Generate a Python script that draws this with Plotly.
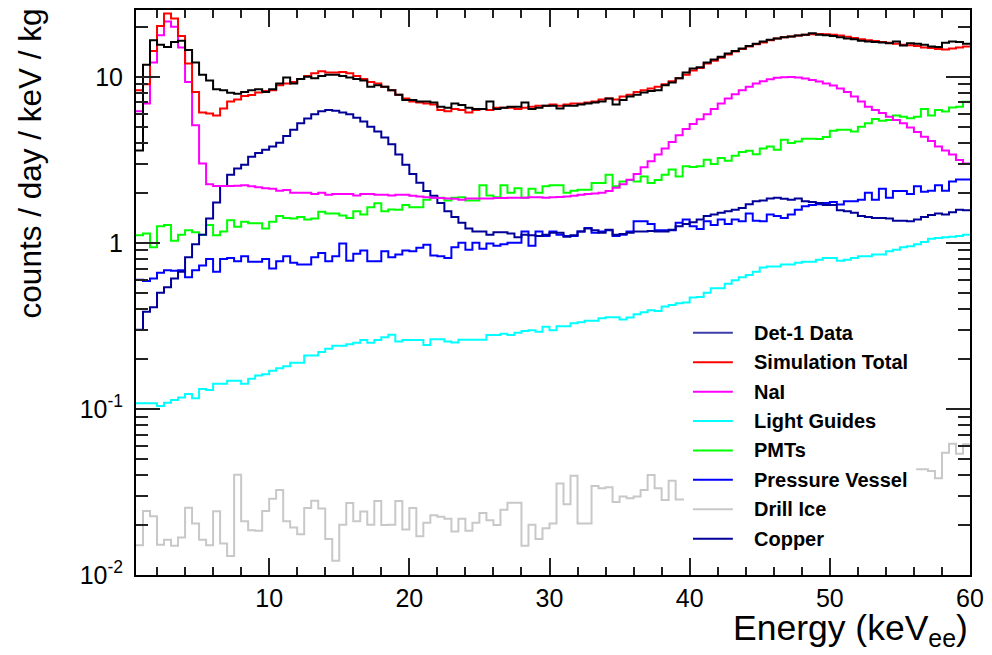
import plotly.graph_objects as go

# ---------------- data ----------------
E_LOW = 0.5          # keV, first bin low edge
BIN_W = 0.5          # keV bin width
N_BINS = 119

det1_data = [3.6, 11.8, 16.6, 15.6, 15.1, 16.2, 16.5, 14.5, 12.2, 10.3,
             9.5, 8.4, 8.3, 8.0, 7.9, 8.1, 8.3, 8.4, 8.1, 8.4,
             9.1, 9.9, 9.1, 9.7, 10.0, 9.8, 10.1, 10.3, 10.3, 10.1,
             9.9, 9.7, 9.5, 8.7, 8.9, 8.7, 8.3, 7.8, 7.25, 7.25,
             7.1, 7.1, 7.0, 6.6, 6.5, 6.9, 6.75, 6.5, 6.4, 6.4,
             7.1, 6.4, 6.5, 6.6, 6.6, 7.0, 6.4, 6.5, 6.7, 6.7,
             6.45, 6.7, 6.7, 6.8, 6.9, 7.0, 7.1, 7.4, 6.8, 7.25,
             7.6, 7.8, 8.05, 8.2, 8.3, 8.9, 9.25, 9.8, 10.6, 11.2,
             11.4, 12.2, 12.7, 13.2, 13.8, 14.3, 14.8, 15.3, 15.8, 16.3,
             16.7, 17.0, 17.3, 17.5, 17.7, 17.9, 18.3, 17.9, 17.8, 17.6,
             17.3, 17.0, 16.8, 16.5, 16.3, 16.2, 16.1, 15.9, 16.3, 15.4,
             15.9, 15.8, 15.6, 15.2, 15.1, 16.0, 16.3, 16.2, 15.8]

sim_total = [8.3, 9.0, 14.3, 20.2, 24.0, 22.4, 17.6, 12.0, 8.1, 6.1,
             6.0, 5.85, 6.45, 7.1, 7.3, 7.66, 7.76, 8.05, 8.2, 8.3,
             8.9, 9.1, 9.3, 9.7, 10.1, 10.5, 10.8, 10.6, 10.6, 10.7,
             10.5, 10.1, 9.7, 9.3, 9.1, 8.7, 8.3, 7.8, 7.4, 7.1,
             7.0, 6.9, 6.8, 6.3, 6.2, 6.4, 6.3, 6.1, 6.3, 6.4,
             6.3, 6.5, 6.5, 6.5, 6.4, 6.5, 6.6, 6.7, 6.7, 6.8,
             6.7, 6.8, 6.9, 6.9, 7.0, 7.1, 7.3, 7.4, 7.3, 7.6,
             7.8, 8.1, 8.3, 8.5, 8.7, 9.0, 9.4, 9.8, 10.3, 10.9,
             11.3, 12.0, 12.5, 13.0, 13.6, 14.2, 14.7, 15.2, 15.7, 16.1,
             16.6, 17.0, 17.3, 17.5, 17.7, 17.9, 18.0, 18.1, 18.0, 17.9,
             17.7, 17.4, 17.1, 16.8, 16.6, 16.4, 16.2, 16.0, 15.8, 15.6,
             15.5, 15.3, 15.0, 14.9, 14.7, 14.6, 14.8, 15.0, 15.2]

nai = [6.2, 6.9, 12.2, 17.8, 21.5, 20.0, 15.0, 9.3, 5.1, 3.0,
       2.25, 2.2, 2.2, 2.2, 2.21, 2.22, 2.19, 2.16, 2.13, 2.12,
       2.06, 2.08, 2.0, 2.0, 2.0, 1.97, 2.0, 1.95, 1.97, 1.97,
       1.97, 1.93, 1.97, 1.97, 1.95, 1.95, 1.93, 1.95, 1.95, 1.92,
       1.9, 1.88, 1.87, 1.86, 1.85, 1.84, 1.82, 1.85, 1.85, 1.85,
       1.85, 1.86, 1.86, 1.87, 1.87, 1.87, 1.88, 1.88, 1.87, 1.88,
       1.89, 1.90, 1.92, 1.95, 1.97, 1.98, 2.0, 2.05, 2.15, 2.25,
       2.4, 2.6, 2.85, 3.1, 3.4, 3.7, 4.05, 4.45, 4.85, 5.2,
       5.55, 5.95, 6.4, 6.9, 7.4, 7.85, 8.3, 8.7, 9.1, 9.4,
       9.65, 9.85, 9.95, 9.97, 9.9, 9.75, 9.55, 9.35, 9.1, 8.85,
       8.5, 8.1, 7.6, 7.1, 6.6, 6.3, 6.05, 5.75, 5.5, 5.25,
       4.95, 4.65, 4.35, 4.1, 3.8, 3.6, 3.4, 3.15, 3.0]

light_guides = [0.108, 0.108, 0.108, 0.104, 0.109, 0.113, 0.117, 0.123, 0.116, 0.132,
                0.130, 0.142, 0.142, 0.148, 0.148, 0.142, 0.152, 0.159, 0.162, 0.170,
                0.176, 0.181, 0.19, 0.19, 0.21, 0.21, 0.22, 0.23, 0.24, 0.24,
                0.245, 0.25, 0.26, 0.25, 0.26, 0.27, 0.28, 0.255, 0.26, 0.26,
                0.26, 0.243, 0.263, 0.263, 0.255, 0.251, 0.261, 0.261, 0.261, 0.261,
                0.279, 0.279, 0.284, 0.279, 0.288, 0.295, 0.298, 0.292, 0.312, 0.298,
                0.315, 0.315, 0.328, 0.332, 0.339, 0.339, 0.351, 0.356, 0.356, 0.346,
                0.355, 0.371, 0.382, 0.393, 0.389, 0.413, 0.423, 0.433, 0.437, 0.468,
                0.472, 0.50, 0.533, 0.533, 0.567, 0.595, 0.62, 0.64, 0.67, 0.71,
                0.72, 0.72, 0.74, 0.74, 0.76, 0.77, 0.77, 0.79, 0.81, 0.81,
                0.78, 0.79, 0.81, 0.83, 0.83, 0.85, 0.85, 0.89, 0.91, 0.94,
                0.955, 0.98, 1.01, 1.06, 1.07, 1.08, 1.09, 1.10, 1.12]

pmts = [1.11, 1.14, 0.94, 1.26, 1.28, 1.03, 1.12, 1.19, 1.16, 1.12,
        1.28, 1.11, 1.17, 1.37, 1.25, 1.34, 1.31, 1.31, 1.22, 1.34,
        1.45, 1.41, 1.40, 1.43, 1.38, 1.40, 1.54, 1.50, 1.50, 1.46,
        1.41, 1.55, 1.48, 1.64, 1.73, 1.55, 1.59, 1.58, 1.69, 1.64,
        1.64, 1.82, 1.87, 1.87, 1.80, 1.87, 1.88, 1.80, 1.80, 2.22,
        1.93, 1.88, 2.22, 2.0, 2.13, 1.87, 2.12, 2.0, 2.19, 2.22,
        2.22, 2.0, 2.06, 2.09, 2.09, 2.29, 2.29, 2.57, 2.19, 2.34,
        2.39, 2.34, 2.51, 2.29, 2.39, 2.57, 2.76, 2.51, 2.89, 2.86,
        2.89, 3.16, 2.98, 3.24, 3.12, 3.35, 3.52, 3.59, 3.42, 3.70,
        3.80, 3.63, 4.17, 3.99, 4.08, 4.24, 4.24, 4.22, 4.34, 4.73,
        4.79, 4.79, 4.68, 5.0, 5.25, 5.57, 5.43, 5.50, 5.84, 5.75,
        5.62, 5.75, 6.4, 5.84, 6.31, 6.17, 6.52, 6.6, 7.08]

pressure_vessel = [0.60, 0.59, 0.61, 0.66, 0.685, 0.68, 0.685, 0.62, 0.685, 0.73,
                   0.80, 0.67, 0.80, 0.81, 0.775, 0.83, 0.77, 0.77, 0.80, 0.70,
                   0.775, 0.83, 0.76, 0.74, 0.74, 0.82, 0.87, 0.775, 0.83, 0.99,
                   0.78, 0.86, 0.90, 0.775, 0.775, 0.89, 0.82, 0.85, 0.90, 0.89,
                   0.935, 0.975, 0.84, 0.83, 0.81, 0.94, 1.0, 0.91, 1.0, 0.92,
                   0.99, 0.96, 0.98, 1.0, 1.0, 1.17, 0.96, 1.17, 1.10, 1.17,
                   1.12, 1.10, 1.10, 1.17, 1.23, 1.15, 1.17, 1.19, 1.10, 1.12,
                   1.17, 1.35, 1.35, 1.30, 1.19, 1.19, 1.19, 1.32, 1.38, 1.26,
                   1.21, 1.35, 1.28, 1.38, 1.30, 1.38, 1.35, 1.50, 1.36, 1.35,
                   1.48, 1.45, 1.41, 1.48, 1.58, 1.66, 1.69, 1.71, 1.74, 1.76,
                   1.70, 1.78, 1.78, 1.82, 2.0, 1.82, 2.12, 1.87, 2.05, 2.05,
                   1.97, 2.19, 2.03, 2.06, 2.22, 2.06, 2.34, 2.41, 2.41]

drill_ice = [0.0151, 0.0243, 0.0226, 0.0152, 0.0163, 0.0150, 0.0168, 0.0254, 0.0204, 0.0163,
             0.0151, 0.0242, 0.0155, 0.0130, 0.0401, 0.0211, 0.0186, 0.0185, 0.0243, 0.0288,
             0.0325, 0.0211, 0.0193, 0.0176, 0.0253, 0.0280, 0.0251, 0.0165, 0.0122, 0.0201,
             0.0271, 0.0211, 0.0241, 0.0201, 0.0279, 0.0200, 0.0201, 0.0279, 0.0188, 0.0253,
             0.0171, 0.0206, 0.0229, 0.0224, 0.0218, 0.0183, 0.0218, 0.0185, 0.0206, 0.0236,
             0.0214, 0.0200, 0.0247, 0.0272, 0.0272, 0.0150, 0.0201, 0.0165, 0.0191, 0.0204,
             0.0356, 0.0267, 0.0396, 0.0204, 0.0204, 0.0343, 0.0333, 0.0337, 0.0275, 0.0297,
             0.0290, 0.0297, 0.0325, 0.0400, 0.0333, 0.0283, 0.0370, 0.0285, 0.0285, 0.031,
             0.034, 0.029, 0.036, 0.033, 0.038, 0.030, 0.035, 0.037, 0.032, 0.039,
             0.034, 0.036, 0.041, 0.033, 0.038, 0.040, 0.035, 0.042, 0.037, 0.039,
             0.044, 0.036, 0.041, 0.043, 0.038, 0.045, 0.040, 0.042, 0.047, 0.039,
             0.044, 0.0434, 0.0434, 0.0423, 0.0383, 0.0545, 0.0617, 0.0537, 0.0612]

copper = [0.30, 0.385, 0.41, 0.50, 0.54, 0.61, 0.67, 0.82, 0.98, 1.12,
          1.40, 1.75, 2.2, 2.57, 2.8, 2.95, 3.3, 3.47, 3.63, 3.8,
          4.0, 4.4, 4.8, 5.25, 5.6, 5.95, 6.2, 6.3, 6.25, 6.1,
          5.95, 5.67, 5.37, 5.0, 4.68, 4.31, 3.93, 3.4, 2.95, 2.6,
          2.3, 2.05, 1.92, 1.74, 1.55, 1.43, 1.32, 1.22, 1.17, 1.17,
          1.12, 1.16, 1.16, 1.14, 1.08, 1.12, 1.11, 1.10, 1.12, 1.15,
          1.15, 1.09, 1.11, 1.17, 1.22, 1.19, 1.15, 1.2, 1.12, 1.13,
          1.15, 1.17, 1.17, 1.18, 1.17, 1.17, 1.2, 1.26, 1.3, 1.33,
          1.38, 1.45, 1.48, 1.52, 1.55, 1.58, 1.62, 1.71, 1.78, 1.80,
          1.85, 1.87, 1.84, 1.82, 1.85, 1.78, 1.76, 1.74, 1.69, 1.69,
          1.57, 1.55, 1.52, 1.45, 1.43, 1.41, 1.41, 1.40, 1.36, 1.36,
          1.35, 1.38, 1.43, 1.47, 1.50, 1.48, 1.53, 1.58, 1.57]

legend_labels = ["Det-1 Data", "Simulation Total", "NaI", "Light Guides",
                 "PMTs", "Pressure Vessel", "Drill Ice", "Copper"]
y_tick_vals = [0.01, 0.1, 1, 10]
y_tick_text = ["10<sup>-2</sup>", "10<sup>-1</sup>", "1", "10"]
x_tick_vals = [10, 20, 30, 40, 50, 60]

# ---------------- styles ----------------
C_DATA_LINE = "#000000"
C_DATA_LEG = "#3c3caa"
C_SIM = "#ff0000"
C_NAI = "#ff00ff"
C_LG = "#00ffff"
C_PMT = "#00ff00"
C_PV = "#0000ff"
C_ICE = "#c8c8c8"
C_CU = "#000099"
FONT = "Liberation Sans, Arial, Helvetica, sans-serif"

edges = [E_LOW + BIN_W * i for i in range(N_BINS + 1)]

def step_trace(vals, color, name):
    return go.Scatter(x=edges, y=list(vals) + [vals[-1]], mode="lines",
                      line=dict(color=color, width=2, shape="hv"),
                      name=name, showlegend=False, hoverinfo="skip")

fig = go.Figure()
fig.add_trace(step_trace(drill_ice, C_ICE, "Drill Ice"))
fig.add_trace(step_trace(light_guides, C_LG, "Light Guides"))
fig.add_trace(step_trace(pmts, C_PMT, "PMTs"))
fig.add_trace(step_trace(pressure_vessel, C_PV, "Pressure Vessel"))
fig.add_trace(step_trace(copper, C_CU, "Copper"))
fig.add_trace(step_trace(nai, C_NAI, "NaI"))
fig.add_trace(step_trace(sim_total, C_SIM, "Simulation Total"))
fig.add_trace(step_trace(det1_data, C_DATA_LINE, "Det-1 Data"))

# plot-area geometry (pixels)
L, R, T, B = 136, 973, 8, 575
W, H = 992, 655

def px_x(px):
    return (px - L) / (R - L)

def px_y(py):
    return (B - py) / (B - T)

minor_y = [m * 10 ** e for e in (-2, -1, 0, 1) for m in range(2, 10)]
minor_y = [v for v in minor_y if v < 25]

fig.update_layout(
    width=W, height=H,
    margin=dict(l=L, r=W - R, t=T, b=H - B),
    paper_bgcolor="white", plot_bgcolor="white",
    font=dict(family=FONT, color="black"),
    showlegend=False,
    xaxis=dict(range=[0.5, 60], showgrid=False, zeroline=False,
               showline=True, linecolor="black", linewidth=2, mirror="allticks",
               ticks="inside", ticklen=17, tickwidth=1.5, tickcolor="#222",
               tickmode="array", tickvals=x_tick_vals,
               tickfont=dict(size=25, family=FONT),
               minor=dict(ticks="inside", ticklen=8, tickwidth=1.5, tickcolor="#222",
                          tickmode="linear", tick0=0, dtick=2, showgrid=False)),
    yaxis=dict(type="log", range=[-2, 1.402], showgrid=False, zeroline=False,
               showline=True, linecolor="black", linewidth=2, mirror="allticks",
               ticks="inside", ticklen=24, tickwidth=1.5, tickcolor="#222",
               tickmode="array", tickvals=y_tick_vals, ticktext=y_tick_text,
               tickfont=dict(size=25, family=FONT), ticklabelstandoff=6,
               minor=dict(ticks="inside", ticklen=12, tickwidth=1.5, tickcolor="#222",
                          tickmode="array", tickvals=minor_y, showgrid=False)),
)

# axis titles
fig.add_annotation(text="counts / day / keV / kg", xref="paper", yref="paper",
                   x=px_x(30), y=px_y(4), xanchor="center", yanchor="top",
                   textangle=-90, showarrow=False,
                   font=dict(size=31.5, family=FONT, color="black"))
fig.add_annotation(text="Energy (keV<sub>ee</sub>)", xref="paper", yref="paper",
                   x=1.0, y=px_y(606), xanchor="right", yanchor="top",
                   showarrow=False, font=dict(size=35.5, family=FONT, color="black"))

# legend (white box + entries)
fig.add_shape(type="rect", xref="paper", yref="paper",
              x0=px_x(686), x1=px_x(919), y0=px_y(316), y1=px_y(555),
              fillcolor="white", line=dict(width=0), layer="above")
leg_colors = [C_DATA_LEG, C_SIM, C_NAI, C_LG, C_PMT, C_PV, C_ICE, C_CU]
row0, drow = 332, 29.5
for i, (lab, col) in enumerate(zip(legend_labels, leg_colors)):
    yy = row0 + i * drow
    fig.add_shape(type="line", xref="paper", yref="paper",
                  x0=px_x(695), x1=px_x(735), y0=px_y(yy), y1=px_y(yy),
                  line=dict(color=col, width=2), layer="above")
    fig.add_annotation(text="<b>%s</b>" % lab, xref="paper", yref="paper",
                       x=px_x(754), y=px_y(yy), xanchor="left", yanchor="middle",
                       showarrow=False, font=dict(size=20, family=FONT, color="black"))

fig.write_html("out.html")
